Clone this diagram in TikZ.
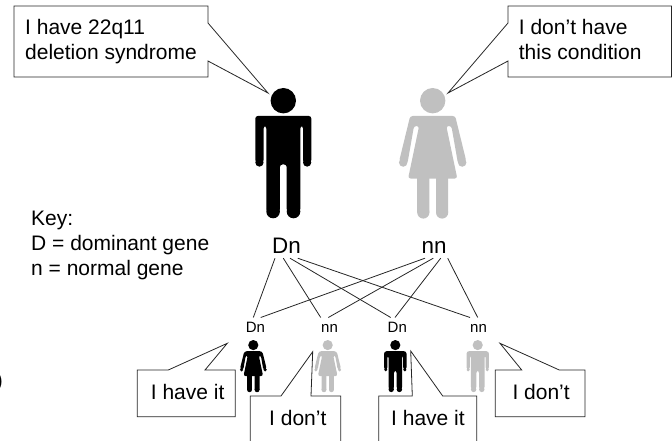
\documentclass[tikz,border=0pt]{standalone}
\usepackage{fontspec}
\setmainfont{Liberation Sans}
\definecolor{lightfig}{HTML}{C0C0C0}
\definecolor{outl}{HTML}{262626}
\tikzset{
  x=1pt,y=-1pt,
  txt/.style={anchor=base west,inner sep=0pt,align=left,font=\fontsize{21}{25}\selectfont},
  bigl/.style={anchor=base,inner sep=0pt,font=\fontsize{22.4}{25}\selectfont,text depth=5pt},
  smalll/.style={anchor=base,inner sep=0pt,font=\fontsize{15}{18}\selectfont,text height=15pt,text depth=0pt},
  link/.style={draw=outl,line width=0.8pt},
  bubble/.style={draw=outl,line width=0.8pt,fill=white,line join=miter},
  man/.pic={
    \fill (0,-64.8) circle[radius=12.7];
    \fill[rounded corners=2.5pt] (-28,-49.5) -- (28,-49.5) -- (28,-3) -- (19.7,-3) -- (19.7,-39.5) -- (17,-39.5)
      -- (17,46) -- (3.4,46) -- (3.4,-1) -- (-3.4,-1) -- (-3.4,46) -- (-17,46) -- (-17,-39.5) -- (-19.7,-39.5) -- (-19.7,-3) -- (-28,-3) -- cycle;
    \fill (-23.85,-3) circle[radius=4.15] (23.85,-3) circle[radius=4.15];
    \fill (-10.2,46) circle[radius=6.8] (10.2,46) circle[radius=6.8];
  },
  woman/.pic={
    \fill (0,-64.8) circle[radius=12.7];
    \fill[rounded corners=2.5pt] (-22.5,-49.5) -- (22.5,-49.5) -- (33.6,-4.2) -- (25.3,-1.8) -- (18.7,-39.5) -- (13.6,-39.5)
      -- (24.6,13) -- (-24.6,13) -- (-13.6,-39.5) -- (-18.7,-39.5) -- (-25.3,-1.8) -- (-33.6,-4.2) -- cycle;
    \fill (-29.5,-3) circle[radius=4.25] (29.5,-3) circle[radius=4.25];
    \fill (-15.5,10) rectangle (-3.3,47) (3.3,10) rectangle (15.5,47);
    \fill (-9.4,47) circle[radius=6.1] (9.4,47) circle[radius=6.1];
  }
}
\begin{document}
\begin{tikzpicture}
\useasboundingbox (0,0) rectangle (672,441);
\clip (0,0) rectangle (672,441);
% figures
\pic[black] at (283.3,165.5) {man};
\pic[lightfig] at (432.7,165.5) {woman};
\pic[black,scale=0.4] at (253.3,371) {woman};
\pic[lightfig,scale=0.4] at (327.7,371) {woman};
\pic[black,scale=0.4] at (395.3,371) {man};
\pic[lightfig,scale=0.4] at (477.7,371) {man};
% speech bubbles
\draw[bubble] (14,6) -- (208,6) -- (208,23) -- (268,93) -- (208,61) -- (208,77) -- (14,77) -- cycle;
\draw[bubble] (508,6) -- (671.5,6) -- (671.5,77) -- (508,77) -- (508,61) -- (448,93) -- (508,23) -- cycle;
\draw[bubble] (137.3,370) -- (168.3,370) -- (227.3,343.3) -- (205,370) -- (235.3,370) -- (235.3,416.7) -- (137.3,416.7) -- cycle;
\draw[bubble] (250.3,443) -- (250.3,396) -- (281,396) -- (312.7,351.7) -- (311,396) -- (340.7,396) -- (340.7,443);
\draw[bubble] (378.7,443) -- (378.7,396) -- (412.3,396) -- (410.7,351) -- (442.7,396) -- (476.7,396) -- (476.7,443);
\draw[bubble] (495.3,370) -- (521.7,370) -- (500,343.3) -- (559.3,370) -- (585,370) -- (585,416.7) -- (495.3,416.7) -- cycle;
% texts
\node[txt] (t1) at (25,60) {I have 22q11\\deletion syndrome};
\node[txt] (t2) at (518.7,60) {I don’t have\\this condition};
\node[txt] (key) at (31,275) {Key:\\D = dominant gene\\n = normal gene};
\node[txt] (s1) at (150.7,399) {I have it};
\node[txt] (s2) at (269,425) {I don’t};
\node[txt] (s3) at (391,425) {I have it};
\node[txt] (s4) at (512.3,399) {I don’t};
\node[txt,anchor=base east] (stray) at (3,387.5) {)};
% gene labels
\node[bigl] (pD) at (286.5,253) {Dn};
\node[bigl] (pN) at (434,253) {nn};
\node[smalll] (c1) at (255.5,332.7) {Dn};
\node[smalll] (c2) at (329.5,332.7) {nn};
\node[smalll] (c3) at (397.3,332.7) {Dn};
\node[smalll] (c4) at (478.5,332.7) {nn};
% connectors
\draw[link] ([xshift=-11.5pt]pD.south) -- ([xshift=-2.2pt]c1.north);
\draw[link] ([xshift=-3.2pt]pD.south) -- ([xshift=-8.8pt]c2.north);
\draw[link] ([xshift=3.5pt]pD.south) -- ([xshift=-6.6pt]c3.north);
\draw[link] ([xshift=11.2pt]pD.south) -- ([xshift=-8.5pt]c4.north);
\draw[link] ([xshift=-9pt]pN.south) -- ([xshift=5.2pt]c1.north);
\draw[link] ([xshift=-0.7pt]pN.south) -- ([xshift=-1.2pt]c2.north);
\draw[link] ([xshift=6.7pt]pN.south) -- ([xshift=-2.3pt]c3.north);
\draw[link] ([xshift=13.7pt]pN.south) -- ([xshift=-0.8pt]c4.north);
\end{tikzpicture}
\end{document}
